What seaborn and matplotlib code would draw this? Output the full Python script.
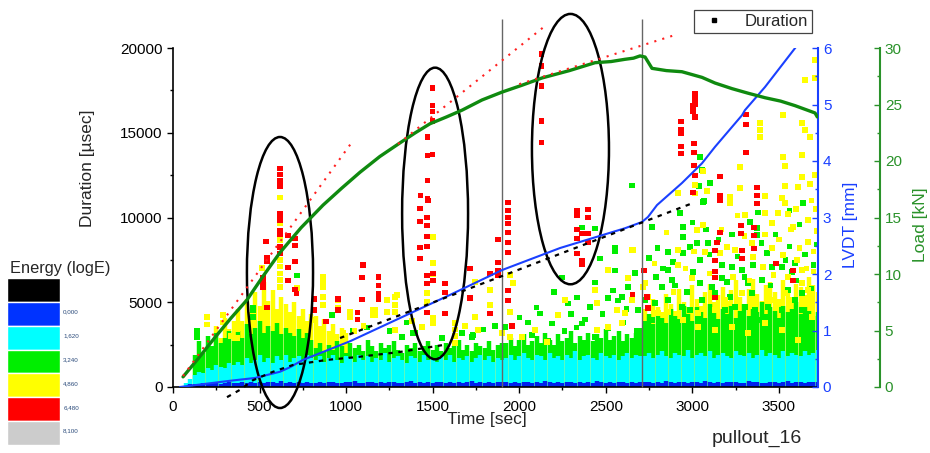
import numpy as np
import pandas as pd
import matplotlib
matplotlib.use("Agg")
import matplotlib.pyplot as plt
import seaborn as sns
from matplotlib.patches import Ellipse
from matplotlib.lines import Line2D
from matplotlib.ticker import MultipleLocator

# ---------------- data ----------------
# dense bands of hits, one value per 25 s time bin (75 ... 3725 s)
band_t = list(range(75, 3726, 25))
blue_top = ([80, 150, 200, 180, 250, 200, 220, 260, 200, 240, 280, 220]
            + [250, 300, 220, 280, 260, 320, 240, 300, 280, 260, 340, 220, 300, 260, 280, 240, 320, 260]
            + [260, 300, 240, 280, 320, 260, 220, 300, 280, 340, 260, 240, 300, 280, 260, 320, 240, 280, 300, 260,
               220, 280, 340, 260, 300, 240, 280, 260, 320, 280, 240, 300, 260, 280, 220, 300, 340, 260, 280, 240,
               300, 260, 280, 320]
            + [280, 240, 300, 260, 320, 280, 240, 300, 260, 340, 280, 260, 300, 240, 280, 320, 260, 300, 240, 280,
               260, 340, 300, 260, 280, 240, 300, 320, 260, 280, 240, 300]
            + [280, 320, 260, 300, 240, 340, 280, 260, 300, 320, 240, 280, 300, 260, 340, 280, 240, 300, 260, 320,
               280, 300, 240, 260, 340, 280, 300, 260, 240, 320, 280, 260, 300, 340, 240, 280, 300, 260, 320, 280,
               300])
cyan_top = ([250, 450, 700, 900, 800, 1100, 1000, 1300, 1200, 1100, 1400, 1300]
            + [1500, 1300, 1700, 1400, 1600, 1900, 1500, 1700, 1400, 1800, 1600, 1900, 1500, 1700, 1800, 1600, 1900, 1700]
            + [1600, 1800, 1500, 1700, 1900, 1600, 1400, 1800, 1700, 1500, 1900, 1600, 1800, 1500, 1700, 1600, 2000,
               1500, 1700, 1800, 1600, 1400, 1800, 1700, 1500, 1900, 1600, 1700, 1500, 1800, 1600, 1900, 1500, 1700,
               1600, 1800, 1500, 1700, 1900, 1600, 1800, 1500, 1700, 1600]
            + [1700, 1900, 1600, 1800, 2000, 1700, 1600, 1900, 1800, 1600, 2000, 1700, 1800, 1600, 1900, 1700, 2100,
               1600, 1800, 1900, 1700, 1600, 2000, 1800, 1700, 1900, 1600, 1800, 2000, 1700, 1900, 1800]
            + [1800, 2000, 1700, 1900, 2100, 1800, 1700, 2000, 1900, 1800, 2200, 1700, 1900, 2000, 1800, 2100, 1700,
               1900, 2000, 1800, 1700, 2100, 1900, 1800, 2000, 1700, 1900, 2200, 1800, 2000, 1900, 1700, 2100, 1800,
               2000, 1900, 1800, 2100, 1900, 2000, 2200])
green_top = ([0, 0, 1900, 2700, 2000, 3000, 2400, 3200, 2600, 2900, 3300, 2700]
             + [3300, 2900, 3700, 3100, 3500, 3900, 3200, 3600, 3300, 3800, 3100, 3500, 3200, 3000, 3400, 2900, 3200, 2800]
             + [2300, 2600, 2100, 2500, 2200, 2700, 2400, 2000, 2600, 2300, 2500, 2100, 2800, 2400, 2100, 2600, 2300,
                2500, 2700, 2200, 2000, 2500, 2300, 2600, 2100, 2400, 2700, 2200, 2500, 2100, 2600, 2300, 2400, 2800,
                2200, 2500, 2100, 2600, 2400, 2300, 2700, 2200, 2500, 2600]
             + [2600, 2900, 2400, 2800, 3100, 2500, 2700, 3000, 2600, 3200, 2800, 2500, 3100, 2700, 2900, 3300, 2600,
                3000, 2800, 3200, 2700, 3100, 2900, 3400, 2800, 3000, 3300, 2700, 3100, 2900, 3200, 3500]
             + [3900, 4300, 3700, 4500, 4100, 3800, 4600, 4200, 4000, 4800, 4300, 3900, 4700, 4400, 4100, 4900, 4500,
                4000, 4600, 4300, 4800, 4100, 4500, 4900, 4200, 4600, 4400, 5000, 4300, 4700, 4500, 4100, 4800, 4400,
                4600, 5000, 4300, 4700, 4500, 4200, 4400])
yellow_top = ([0, 0, 0, 0, 0, 2300, 0, 3600, 2900, 4100, 3400, 3900]
              + [4600, 3900, 5200, 4400, 5600, 4800, 6200, 5100, 5700, 4600, 5300, 4900, 4400, 5000, 4200, 4600, 3900, 4300]
              + [4200, 3600, 4000, 3300, 3700, 3100, 3500, 3200] + [0] * 36
              + [0] * 32
              + [4600, 4200, 5200, 4700, 4400, 5500, 4900, 4500, 5800, 5000, 4700, 6000, 5200, 4800, 5600, 6100, 5000,
                 5400, 5900, 5100, 5700, 6300, 5300, 4900, 5800, 6400, 5500, 5100, 6000, 6200, 5600, 5200, 6300, 5700,
                 5300, 6100, 5900, 5400, 6500, 6000, 5600])

# scattered hits (time [s], duration [usec])
green_t = [139, 139, 462, 462, 462, 716, 919, 370,
           2120, 2190, 2363, 2438, 2553, 2553, 2467, 2438, 2334, 2282, 2409, 2513, 2542, 2571, 2247, 2363, 1918,
           2074, 1727, 1554, 1386, 2553, 2513, 2438, 2166,
           1323, 1398, 1670, 1733, 1040, 1120, 1250, 1350, 1790, 1860,
           2050, 2100, 2200, 2300, 2330, 2380, 2480, 2600, 2620, 2680, 2000, 2260,
           2652, 3102, 3056, 3044, 3067, 2929, 2767, 3333, 3374, 3374, 3062, 3640, 3039,
           2946, 2946, 3027, 3091, 3044, 2888, 2860, 2883, 2825, 2784, 3004, 3044, 3114, 3172, 3172, 3229, 3287,
           3322, 3218, 3304, 3345, 3402, 3460, 3431, 3518, 3553, 3593, 3634, 3593, 3576, 3634, 2946, 2987, 2860,
           2727, 2686, 2767, 2669, 2629, 2594, 2860, 2940, 2987, 3056, 3131, 3189, 3247, 3362, 3437, 3518, 3380,
           2800, 2830, 2900, 2970, 3000, 3100, 3150, 3200, 3260, 3300, 3350, 3400, 3450, 3480, 3540, 3560, 3600,
           3650, 3690, 3700, 3720, 2750, 2790, 3080, 3230, 3380, 3620, 3560]
green_D = [2940, 3300, 4530, 4120, 4660, 6590, 4240, 2590,
           4350, 3760, 9410, 9350, 8240, 8000, 7590, 6180, 5290, 4940, 4710, 5240, 5710, 5120, 6470, 3760, 3530,
           3060, 2940, 2880, 3180, 6880, 3470, 2940, 2760,
           2950, 3190, 3190, 3070, 3300, 3500, 3300, 3800, 3400, 3600,
           3800, 4700, 5600, 4300, 3500, 4000, 4300, 3800, 4600, 3300, 4100, 3300,
           11900, 12040, 12800, 13570, 10970, 10270, 9440, 9740, 9380, 8970, 10920, 10860, 11860,
           9440, 8850, 8500, 8500, 7490, 7370, 6900, 6310, 5900, 4960, 6785, 6136, 5900, 6431, 7198, 7080, 6903,
           6136, 5310, 4720, 5546, 6313, 7080, 7906, 7080, 5720, 5133, 4543, 7316, 6785, 5546, 7906, 8260, 7965,
           5133, 4543, 3953, 6726, 5900, 5310, 5133, 4720, 4543, 5133, 5546, 4543, 4720, 4543, 4720, 4543, 3953,
           8200, 7000, 6000, 5600, 9700, 7800, 8700, 6200, 7700, 6500, 7200, 8500, 6000, 9000, 7500, 8300, 6300,
           7800, 5800, 7200, 8400, 7600, 6500, 9300, 9000, 10300, 9600, 10400]
yellow_t = [196, 196, 289, 289, 335, 370, 370,
            618, 618, 618, 618, 618, 618, 618, 618,
            514, 716, 867, 867, 867, 867, 1023, 1023, 1155, 1155, 1236, 982, 809, 832, 867, 953, 953, 1023, 1167,
            1167, 1294, 1236,
            1502, 1502, 1502, 1282, 1282, 1467, 1467, 1439, 1502, 1502, 1629, 1629, 1629, 1629, 1687, 1745, 1745,
            1762, 1831, 1831, 1901, 1947, 1964, 1947, 1947, 2016, 2091, 2161, 2265, 2224, 2438, 2450, 2513, 2565,
            2513, 2450, 2657, 2628, 2715, 1282, 1282, 1100, 1050, 1380,
            3709, 3651, 3709, 3524, 3634, 3651, 3680, 3391, 3391, 3391, 3524, 3536, 3634, 3275, 3634, 3709, 3536,
            3611, 3680, 3275, 3062, 3085, 2917, 3218, 3420, 3518, 3016, 3016,
            3218, 3420, 3495, 3536, 3553, 3460, 3582, 3668, 3668, 3304, 3027, 3062, 2917, 2917, 2998, 3073, 3160,
            3200, 3247, 3351, 3345, 3408, 3460, 3524, 3553, 3605, 3634, 3634, 3668, 3460, 3536, 3235, 3287, 3189,
            3131, 3033, 3033, 2946, 2860, 2802, 2744, 2727, 2652, 2611, 2594, 2652, 2629, 3131, 3229, 3322, 3420,
            3518, 3611, 3691, 3700, 3720,
            2780, 2850, 2890, 2960, 3010, 3100, 3170, 3260, 3300, 3330, 3420, 3470, 3500, 3570, 3620, 3660, 3700,
            3710, 3690, 3600]
yellow_D = [4130, 3700, 4250, 3800, 3000, 3400, 2900,
            11180, 9680, 8670, 7490, 7100, 6700, 6310, 5900,
            7020, 5840, 6490, 6200, 5900, 4840, 4420, 4100, 4540, 4250, 4420, 3190, 3950, 3240, 5310, 5130, 4660,
            4370, 4540, 4200, 5430, 5130,
            8850, 7310, 6670, 4840, 4420, 5550, 5010, 3540, 4070, 3780, 3780, 3400, 3000, 2600, 3600, 6200, 4130,
            3360, 5720, 4840, 3190, 6610, 6140, 4420, 2950, 2950, 3360, 2660, 5130, 4250, 5720, 4960, 6900, 4540,
            3540, 3360, 8080, 6430, 5900, 5310, 3360, 3600, 3300, 3900,
            19290, 18110, 18230, 16050, 15580, 15170, 14750, 15580, 15170, 14750, 13570, 13040, 13690, 12980, 12390,
            12510, 11860, 11800, 11980, 11740, 12740, 11560, 11450, 11210, 11270, 11150, 11920, 11400,
            10860, 10270, 10270, 10860, 10200, 9680, 9440, 9850, 8560, 10150, 9270, 9560, 8080, 7200, 6430, 7960,
            7900, 8260, 8080, 7670, 8500, 7080, 8200, 7790, 6490, 7490, 6900, 6140, 5720, 5130, 5550, 6490, 5550,
            5130, 4540, 4370, 3540, 3950, 4430, 4370, 5310, 6140, 5130, 4370, 3780, 8080, 6430, 3360, 3540, 3190,
            3780, 3360, 2770, 4130, 6800, 9200,
            7300, 9100, 5600, 7000, 8000, 6700, 9300, 10100, 8900, 6300, 9000, 6600, 8700, 9300, 8200, 7000, 8000,
            10500, 11000, 10500]
red_t = [618, 618, 618, 618, 618, 618, 618, 618, 537, 705, 705, 665, 618, 618, 543, 543, 705, 665, 520, 520,
         520, 665, 705, 712, 543, 816, 816, 884, 953, 953, 1098, 1092, 1092, 1065, 1065, 1188, 1188, 1188, 1188,
         1500, 1500, 1500, 1500, 1470, 1470, 1500, 1470, 1430, 1470, 1427, 1473, 1467, 1427, 1467, 1467, 1467,
         1427, 1427, 1467, 1467, 1502, 1502, 1571, 1571, 1571, 1467, 1716, 1716, 1832, 1832, 1877, 1877, 1877,
         1877, 1935, 1935, 1935, 1935, 1935, 1935, 1935, 1935, 1935, 1958,
         2130, 2130, 2130, 2130, 2130, 2333, 2333, 2397, 2397, 2333, 2333, 2362, 2397, 2397, 2333, 2362, 2362,
         3016, 3016, 3016, 3005, 3005, 3016, 2935, 2935, 2935, 2935, 2935, 3010, 3010, 3010, 3016, 3005, 3160,
         3310, 3310, 3310, 3374, 3374, 3374, 3160, 3160, 3160, 3143, 3131, 3131, 3131, 3131, 3131, 3281, 3281,
         3357, 3357, 3357, 3287, 3287, 2720, 3484, 3582, 3582, 2656, 2743, 2738]
red_D = [12900, 12550, 12200, 11850, 10200, 9850, 9250, 9000, 8600, 8750, 8350, 8950, 8250, 7880, 7650, 7400,
         7420, 7060, 6450, 6150, 5880, 6300, 5750, 5500, 4700, 5200, 4550, 3850, 5200, 4550, 7200, 6450, 5150,
         4400, 4000, 6500, 6000, 5500, 5200,
         17650, 16600, 16250, 15700, 14760, 13650, 13700, 12180, 11300, 11100, 10530, 11000, 10000, 9760, 9530,
         8880, 8290, 8240, 7590, 6590, 6120, 6290, 6700, 6120, 5590, 4350, 4410, 7000, 5240, 6700, 4350, 8710,
         7350, 6880, 6590, 10880, 10410, 10000, 9650, 9120, 8530, 7940, 5700, 5120, 3590,
         19650, 18940, 17760, 15700, 14410, 10410, 10120, 10470, 10000, 9290, 8760, 9060, 9060, 8530, 7880, 7470,
         7250,
         17290, 17000, 16700, 16590, 16290, 15940, 15650, 15180, 14940, 14180, 13760, 14350, 13820, 13060, 12470,
         11470, 12410, 16060, 15470, 13820, 11760, 11290, 10820, 11290, 11000, 9120, 8530, 8060, 7470, 6820, 6450,
         5290, 9530, 9060, 9410, 8940, 8180, 8060, 7590, 6880, 7290, 6880, 6290, 5470, 4650, 5300]

# measured curves
load_t = [58, 150, 243, 335, 427, 520, 618, 740, 867, 975, 1080, 1195, 1311, 1400, 1485, 1580, 1670, 1785, 1901,
          2015, 2132, 2290, 2438, 2530, 2611, 2660, 2698, 2727, 2767, 2850, 2940, 3056, 3131, 3230, 3322, 3420,
          3510, 3593, 3709, 3722]
load_kN = [0.9, 2.6, 4.4, 6.1, 7.7, 9.8, 11.9, 14.1, 16.1, 17.6, 19.0, 20.4, 21.6, 22.5, 23.3, 23.9, 24.5, 25.4,
           26.1, 26.7, 27.35, 28.0, 28.7, 28.8, 29.0, 29.1, 29.3, 29.2, 28.2, 28.0, 27.9, 27.4, 26.9, 26.4, 26.0,
           25.6, 25.3, 24.9, 24.25, 23.9]
lvdt_t = [40, 329, 474, 618, 676, 751, 1023, 1311, 1600, 1901, 2236, 2611, 2709, 2744, 2796, 2940, 3056, 3131,
          3287, 3304, 3420, 3599]
lvdt_mm = [0.0, 0.11, 0.16, 0.27, 0.35, 0.48, 0.81, 1.22, 1.63, 2.07, 2.46, 2.81, 2.92, 3.01, 3.22, 3.61, 3.96,
           4.25, 4.81, 4.90, 5.31, 6.02]
fit1_t = [312, 387, 462, 578, 693, 890, 1063, 1311, 1554]
fit1_mm = [-0.18, -0.05, 0.12, 0.27, 0.39, 0.48, 0.53, 0.62, 0.74]
fit2_t = [965, 3004]
fit2_mm = [0.867, 3.257]
red1_t, red1_kN = [58, 1040], [0.97, 21.8]
red2_t, red2_kN = [1300, 2149], [21.5, 31.95]
red3_t, red3_kN = [2000, 2900], [26.8, 31.15]

# annotations
event_t = [1900, 2709]
event_top = 21700
ell_t = [618, 1514, 2296]
ell_D = [6755, 10237, 14035]
ell_w = [382, 381, 445]
ell_h = [15990, 17206, 15950]

energy_colors = ["#000000", "#0033ff", "#00ffff", "#00ee00", "#ffff00", "#ff0000", "#cccccc"]
energy_labels = ["0,000", "1,620", "3,240", "4,860", "6,480", "8,100"]

# ---------------- styling ----------------
sns.set_theme(style="white")
plt.rcParams["font.family"] = ["Liberation Sans", "DejaVu Sans"]

BLUE = "#1a40ff"
GREEN_LINE = "#0f8a0f"
GREEN_AX = "#2a922a"
LBL = 12.5
TCK = 11

fig = plt.figure(figsize=(9.3, 4.53), dpi=100)
ax = fig.add_axes([173 / 930, 66 / 453, 645 / 930, 339 / 453])
ax.set_xlim(0, 3726)
ax.set_ylim(0, 20000)

# bands
lw_band = 3.2
ax.vlines(band_t, 0, yellow_top, colors="#ffff00", lw=lw_band, zorder=1.0)
ax.vlines(band_t, 0, green_top, colors="#00ee00", lw=lw_band, zorder=1.1)
ax.vlines(band_t, 0, cyan_top, colors="#00ffff", lw=lw_band, zorder=1.2)

df = pd.concat([
    pd.DataFrame({"t": green_t, "D": green_D, "energy": "g"}),
    pd.DataFrame({"t": yellow_t, "D": yellow_D, "energy": "y"}),
    pd.DataFrame({"t": red_t, "D": red_D, "energy": "r"}),
], ignore_index=True)
sns.scatterplot(data=df, x="t", y="D", hue="energy",
                palette={"g": "#00ee00", "y": "#ffff00", "r": "#ff0000"},
                marker="s", s=15, linewidth=0, legend=False, ax=ax, zorder=2)
ax.vlines(band_t, 0, blue_top, colors="#0022ee", lw=lw_band, zorder=2.5)

ax.vlines(event_t, 0, event_top, colors="#666666", lw=1.0, clip_on=False, zorder=5)
for t, d, w, h in zip(ell_t, ell_D, ell_w, ell_h):
    ax.add_patch(Ellipse((t, d), w, h, fill=False, ec="black", lw=1.8, clip_on=False, zorder=6))

ax.set_xlabel("Time [sec]", fontsize=LBL)
ax.set_ylabel("Duration [µsec]", fontsize=LBL)
ax.xaxis.set_label_coords((487 - 173) / 645, (387 - 412) / 339)
ax.yaxis.set_label_coords((95 - 173) / 645, (387 - 168) / 339)
ax.xaxis.set_major_locator(MultipleLocator(500))
ax.xaxis.set_minor_locator(MultipleLocator(250))
ax.yaxis.set_major_locator(MultipleLocator(5000))
ax.yaxis.set_minor_locator(MultipleLocator(2500))
ax.tick_params(which="both", direction="out", bottom=True, left=True, width=1, colors="black", labelsize=TCK)
ax.tick_params(which="major", length=4)
ax.tick_params(which="minor", length=2.5)
ax.tick_params(axis="x", which="major", pad=5.2)
for s in ["top", "right"]:
    ax.spines[s].set_visible(False)
for s in ["left", "bottom"]:
    ax.spines[s].set_color("black")
    ax.spines[s].set_linewidth(1.2)

# LVDT axis
ax2 = ax.twinx()
ax2.set_ylim(0, 6)
sns.lineplot(x=lvdt_t, y=lvdt_mm, ax=ax2, color=BLUE, lw=1.5, sort=False, estimator=None)
sns.lineplot(x=fit1_t, y=fit1_mm, ax=ax2, color="black", lw=1.6, linestyle=(0, (2, 2.5)), sort=False,
             estimator=None, clip_on=False)
sns.lineplot(x=fit2_t, y=fit2_mm, ax=ax2, color="black", lw=1.6, linestyle=(0, (2, 2.5)), sort=False,
             estimator=None)
ax2.set_ylabel("LVDT [mm]", color=BLUE, fontsize=LBL)
ax2.yaxis.set_label_coords((843 - 173) / 645, (387 - 225) / 339)
ax2.yaxis.set_major_locator(MultipleLocator(1))
ax2.yaxis.set_minor_locator(MultipleLocator(0.5))
ax2.tick_params(which="both", direction="in", right=True, colors=BLUE, width=1, labelsize=TCK)
ax2.tick_params(which="major", length=4)
ax2.tick_params(which="minor", length=2.5)
for s in ["left", "top", "bottom"]:
    ax2.spines[s].set_visible(False)
ax2.spines["right"].set_color(BLUE)
ax2.spines["right"].set_linewidth(1.5)

# Load axis
ax3 = ax.twinx()
ax3.set_ylim(0, 30)
sns.lineplot(x=load_t, y=load_kN, ax=ax3, color=GREEN_LINE, lw=2.4, sort=False, estimator=None)
for xt, yk in [(red1_t, red1_kN), (red2_t, red2_kN), (red3_t, red3_kN)]:
    sns.lineplot(x=xt, y=yk, ax=ax3, color="#ff2020", lw=1.5, linestyle=(0, (1, 3)), sort=False,
                 estimator=None, clip_on=False)
ax3.set_ylabel("Load [kN]", color=GREEN_AX, fontsize=LBL)
ax3.yaxis.set_label_coords((913 - 173) / 645, (387 - 225) / 339)
ax3.yaxis.set_major_locator(MultipleLocator(5))
ax3.yaxis.set_minor_locator(MultipleLocator(2.5))
ax3.tick_params(which="both", direction="in", right=True, colors=GREEN_AX, width=1, labelsize=TCK)
ax3.tick_params(which="major", length=4)
ax3.tick_params(which="minor", length=2.5)
for s in ["left", "top", "bottom"]:
    ax3.spines[s].set_visible(False)
ax3.spines["right"].set_position(("outward", 44.6))
ax3.spines["right"].set_color(GREEN_AX)
ax3.spines["right"].set_linewidth(1.5)

# legend
h = Line2D([], [], marker="s", color="black", linestyle="None", markersize=2.5)
leg = fig.legend(handles=[h], labels=["Duration"], loc="upper right", bbox_to_anchor=(812 / 930, 1 - 10 / 453),
                 fontsize=12, frameon=True, fancybox=False, edgecolor="#444444", framealpha=1,
                 borderpad=0.25, handlelength=2.0, handletextpad=0.8, borderaxespad=0)
leg.get_frame().set_linewidth(0.9)

# energy colour key
cb = fig.add_axes([7 / 930, 8 / 453, 53 / 930, 167 / 453])
cb.barh(y=list(range(7)), width=1, height=1, left=0, color=energy_colors)
cb.set_xlim(0, 1)
cb.set_ylim(6.5, -0.5)
cb.axis("off")
for k, lab in enumerate(energy_labels):
    cb.text(1.06, k + 0.92, lab, fontsize=4.5, color="#2a4a7a", va="center", ha="left")
fig.text(10 / 930, 1 - 268 / 453, "Energy (logE)", fontsize=11.8, va="center", ha="left")
fig.text(712 / 930, 1 - 438 / 453, "pullout_16", fontsize=14, va="center", ha="left")

fig.savefig("out.png", dpi=100)
